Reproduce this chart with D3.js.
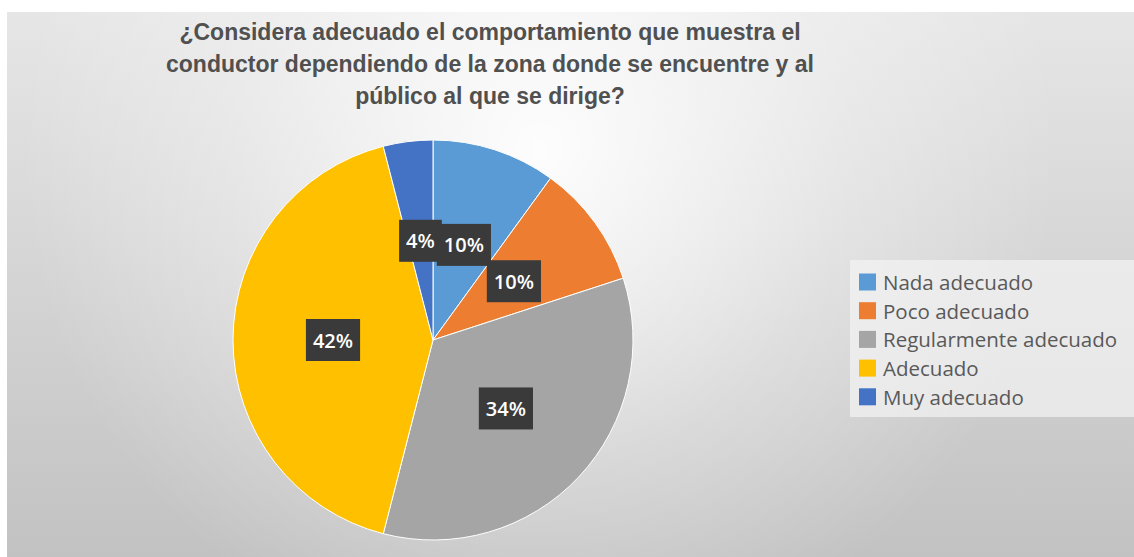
<!DOCTYPE html>
<html>
<head>
<meta charset="utf-8">
<script src="https://cdn.jsdelivr.net/npm/d3@7"></script>
<style>
  html, body { margin: 0; padding: 0; background: #ffffff; }
  svg { display: block; }
</style>
</head>
<body>
<svg id="chart" width="1134" height="557"></svg>
<script>
// ---- data ----
const categories = ["Nada adecuado", "Poco adecuado", "Regularmente adecuado", "Adecuado", "Muy adecuado"];
const values = [10, 10, 34, 42, 4];
const labels = ["10%", "10%", "34%", "42%", "4%"];
const colors = ["#5B9BD5", "#ED7D31", "#A5A5A5", "#FFC000", "#4472C4"];
const titleLines = [
  "¿Considera adecuado el comportamiento que muestra el",
  "conductor dependiendo de la zona donde se encuentre y al",
  "público al que se dirige?"
];

const W = 1134, H = 557;
const svg = d3.select("#chart");
const defs = svg.append("defs");

// background gradients
const lin = defs.append("linearGradient").attr("id", "bgLin")
  .attr("x1", 0).attr("y1", 0).attr("x2", 0).attr("y2", 1);
lin.append("stop").attr("offset", 0).attr("stop-color", "#e6e6e6");
lin.append("stop").attr("offset", 1).attr("stop-color", "#c2c2c2");

const rad = defs.append("radialGradient").attr("id", "bgRad")
  .attr("gradientUnits", "userSpaceOnUse")
  .attr("cx", 540).attr("cy", 150).attr("r", 520);
rad.append("stop").attr("offset", 0).attr("stop-color", "#ffffff").attr("stop-opacity", 0.95);
rad.append("stop").attr("offset", 0.6).attr("stop-color", "#ffffff").attr("stop-opacity", 0.3);
rad.append("stop").attr("offset", 1).attr("stop-color", "#ffffff").attr("stop-opacity", 0);

const areaX = 7, areaY = 12;
svg.append("rect").attr("x", areaX).attr("y", areaY).attr("width", W - areaX).attr("height", H - areaY)
  .attr("fill", "url(#bgLin)");
svg.append("rect").attr("x", areaX).attr("y", areaY).attr("width", W - areaX).attr("height", H - areaY)
  .attr("fill", "url(#bgRad)");

// title
const title = svg.append("text")
  .attr("x", 490).attr("y", 40)
  .attr("text-anchor", "middle")
  .attr("font-family", "Liberation Sans, Arial, sans-serif")
  .attr("font-weight", "bold")
  .attr("font-size", 23)
  .attr("fill", "#505050");
titleLines.forEach((t, i) => {
  title.append("tspan").attr("x", 490).attr("dy", i === 0 ? 0 : 32).text(t);
});

// pie
const cx = 433, cy = 340, R = 200;
const pie = d3.pie().sort(null).value(d => d.value);
const arcs = pie(categories.map((c, i) => ({ cat: c, value: values[i], label: labels[i], color: colors[i] })));
const arc = d3.arc().innerRadius(0).outerRadius(R);

const g = svg.append("g").attr("transform", `translate(${cx},${cy})`);
g.selectAll("path.slice").data(arcs).enter().append("path")
  .attr("class", "slice")
  .attr("d", arc)
  .attr("fill", d => d.data.color)
  .attr("stroke", "#ffffff")
  .attr("stroke-width", 1);

// data labels (drawn in order; later ones on top)
const labelOrder = [4, 0, 1, 2, 3];
const lg = g.append("g");
labelOrder.forEach(i => {
  const d = arcs[i];
  const [lx, ly] = arc.centroid(d);
  const grp = lg.append("g").attr("transform", `translate(${lx},${ly})`);
  const rect = grp.append("rect").attr("fill", "#3a3a3a");
  const txt = grp.append("text")
    .attr("text-anchor", "middle")
    .attr("dominant-baseline", "central")
    .attr("font-family", "Open Sans, sans-serif")
    .attr("font-weight", 600)
    .attr("font-size", 20)
    .attr("fill", "#ffffff")
    .text(d.data.label);
  const w = txt.node().getComputedTextLength() + 14;
  const h = 42;
  rect.attr("x", -w / 2).attr("y", -h / 2).attr("width", w).attr("height", h);
});

// legend
const legX = 859, legY0 = 282, legStep = 28.7, sq = 17;
svg.append("rect").attr("x", 850).attr("y", 260).attr("width", W - 850).attr("height", 157)
  .attr("fill", "#f3f3f3").attr("opacity", 0.7);
const leg = svg.append("g");
categories.forEach((c, i) => {
  const y = legY0 + i * legStep;
  leg.append("rect").attr("x", legX).attr("y", y - sq / 2).attr("width", sq).attr("height", sq)
    .attr("fill", colors[i]);
  leg.append("text").attr("x", legX + 24).attr("y", y)
    .attr("dominant-baseline", "central")
    .attr("font-family", "Open Sans, sans-serif")
    .attr("font-size", 20.5)
    .attr("fill", "#595959")
    .text(c);
});
</script>
</body>
</html>
